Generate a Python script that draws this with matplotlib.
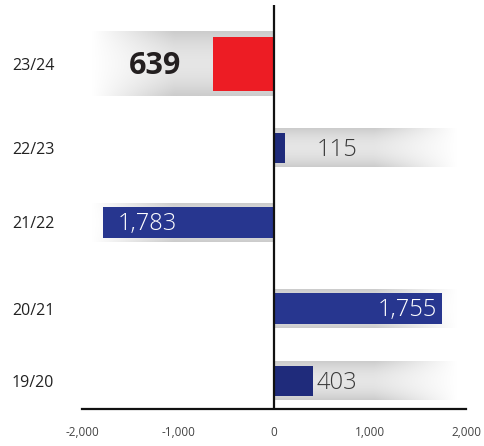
import matplotlib.pyplot as plt
import numpy as np

seasons = ['23/24', '22/23', '21/22', '20/21', '19/20']
values = [-639, 115, -1783, 1755, 403]
labels = ['639', '115', '1,783', '1,755', '403']
bar_colors = ['#ed1c24', '#1f2b7b', '#27368f', '#27368f', '#1f2b7b']
xticks = [-2000, -1000, 0, 1000, 2000]
xtick_labels = ['-2,000', '-1,000', '0', '1,000', '2,000']

plt.rcParams['font.family'] = ['Open Sans', 'DejaVu Sans']

fig = plt.figure(figsize=(4.85, 4.46), dpi=100)
ax = fig.add_axes([82/485, 1-409/446, 384/485, 404/446])

# rows are not quite evenly spaced in the original
ypos = np.array([0, 1.06, 2.0, 3.09, 4.0])


def band(ax, y, h, x0, x1, left_fade):
    # gray glossy band behind the bar, fading to white on the outer side
    nx, ny = 200, 40
    t = np.linspace(0, 1, nx)
    if left_fade:
        t = t[::-1]
    horiz = np.clip((t - 0.55) / 0.45, 0, 1)
    u = np.linspace(-1, 1, ny)
    vert = 0.80 + 0.10 * (1 - u**2)
    g = vert[:, None] + (1 - vert[:, None]) * horiz[None, :]
    img = np.dstack([g, g, g])
    ax.imshow(img, extent=[x0, x1, y + h/2, y - h/2], aspect='auto',
              zorder=1, interpolation='bilinear')


for i, v in enumerate(values):
    if i == 0:
        band(ax, ypos[i], 0.82, -1900, 0, True)
        ax.barh(ypos[i], v, height=0.68, color=bar_colors[i], zorder=2)
        ax.text(-1240, ypos[i] + 0.02, labels[i], fontsize=22, fontweight='bold',
                color='#231f20', ha='center', va='center', zorder=3)
        continue
    if v < 0:
        band(ax, ypos[i], 0.48, -1900, 0, True)
    else:
        band(ax, ypos[i], 0.48, 0, 1900, False)
    ax.barh(ypos[i], v, height=0.39, color=bar_colors[i], zorder=2)
    kw = dict(fontsize=17, fontweight='light', va='center', zorder=3)
    if abs(v) < 1000:
        ax.text(440, ypos[i] + 0.02, labels[i], color='#3a3a3a', ha='left', **kw)
    elif v < 0:
        ax.text(v + 150, ypos[i] + 0.02, labels[i], color='white', ha='left', **kw)
    else:
        ax.text(v - 60, ypos[i] + 0.02, labels[i], color='white', ha='right', **kw)

ax.axvline(0, color='#111111', lw=1.6, zorder=4)
ax.set_xlim(-2000, 2000)
ax.set_ylim(4.353, -0.744)

ax.set_yticks(ypos)
ax.set_yticklabels(seasons, fontsize=11.5, fontweight='medium', color='#222222')
ax.set_xticks(xticks)
ax.set_xticklabels(xtick_labels, fontsize=8.5, color='#444444')
ax.tick_params(axis='both', length=0)
ax.tick_params(axis='x', pad=12)
ax.tick_params(axis='y', pad=20)

for s in ['top', 'right', 'left']:
    ax.spines[s].set_visible(False)
ax.spines['bottom'].set_linewidth(1.6)
ax.spines['bottom'].set_color('#111111')

fig.savefig('out.png', dpi=100)
